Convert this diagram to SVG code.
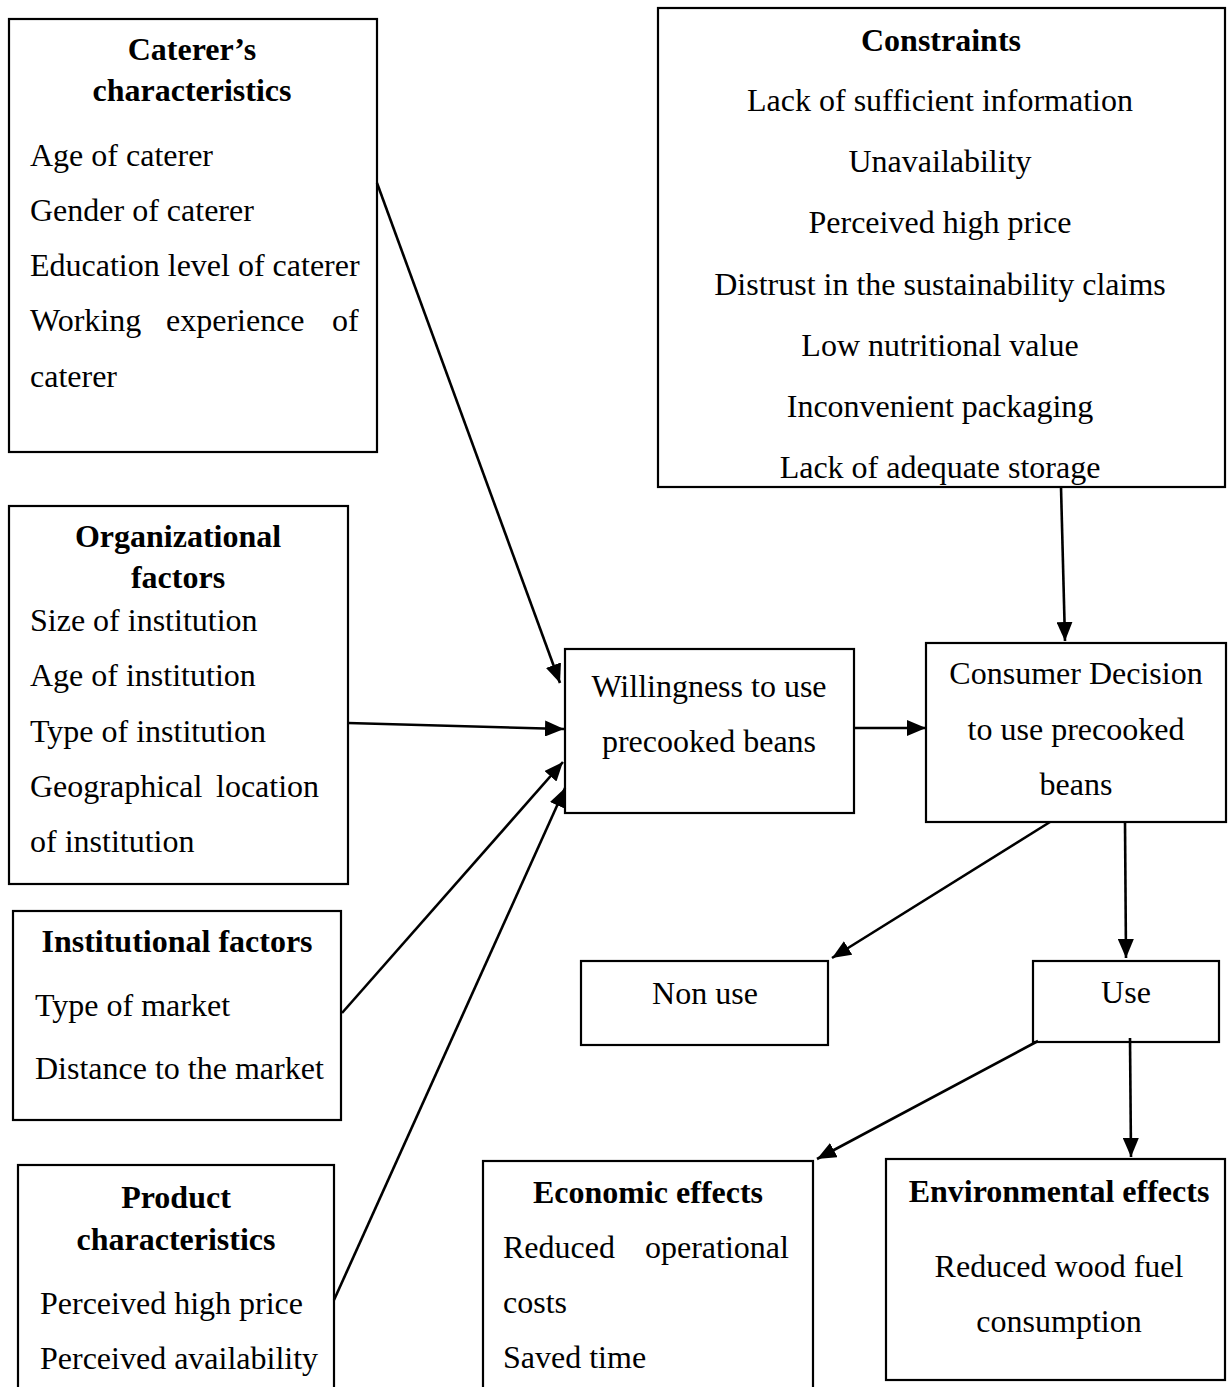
<svg xmlns="http://www.w3.org/2000/svg" width="1229" height="1387" viewBox="0 0 1229 1387">
<style>
.box{fill:#fff;stroke:#000;stroke-width:2.2}
text{font-family:"Liberation Serif","Times New Roman",serif;font-size:32px;fill:#000}
.b{font-weight:bold}
.c{text-anchor:middle}
.ln{stroke:#000;stroke-width:2.6;fill:none;marker-end:url(#ah)}
</style>
<defs>
<marker id="ah" markerUnits="userSpaceOnUse" markerWidth="20" markerHeight="16" refX="19" refY="8" orient="auto">
<path d="M0,0 L19,8 L0,16 z" fill="#000"/>
</marker>
</defs>
<rect width="1229" height="1387" fill="#fff"/>

<g id="caterer">
<rect class="box" x="9" y="19" width="368" height="433"/>
<text class="b c" x="192" y="60">Caterer’s</text>
<text class="b c" x="192" y="101">characteristics</text>
<text x="30" y="166">Age of caterer</text>
<text x="30" y="221">Gender of caterer</text>
<text x="30" y="276">Education level of caterer</text>
<text y="331"><tspan x="30">Working</tspan><tspan x="166">experience</tspan><tspan x="332">of</tspan></text>
<text x="30" y="387">caterer</text>
</g>

<g id="constraints">
<rect class="box" x="658" y="8" width="567" height="479"/>
<text class="b c" x="941" y="51">Constraints</text>
<text class="c" x="940" y="111">Lack of sufficient information</text>
<text class="c" x="940" y="172">Unavailability</text>
<text class="c" x="940" y="233">Perceived high price</text>
<text class="c" x="940" y="295">Distrust in the sustainability claims</text>
<text class="c" x="940" y="356">Low nutritional value</text>
<text class="c" x="940" y="417">Inconvenient packaging</text>
<text class="c" x="940" y="478">Lack of adequate storage</text>
</g>

<g id="organizational">
<rect class="box" x="9" y="506" width="339" height="378"/>
<text class="b c" x="178" y="547">Organizational</text>
<text class="b c" x="178" y="588">factors</text>
<text x="30" y="631">Size of institution</text>
<text x="30" y="686">Age of institution</text>
<text x="30" y="742">Type of institution</text>
<text y="797"><tspan x="30">Geographical</tspan><tspan x="216">location</tspan></text>
<text x="30" y="852">of institution</text>
</g>

<g id="institutional">
<rect class="box" x="13" y="911" width="328" height="209"/>
<text class="b c" x="177" y="952">Institutional factors</text>
<text x="35" y="1016">Type of market</text>
<text x="35" y="1079">Distance to the market</text>
</g>

<g id="product">
<rect class="box" x="18" y="1165" width="316" height="240"/>
<text class="b c" x="176" y="1208">Product</text>
<text class="b c" x="176" y="1250">characteristics</text>
<text x="40" y="1314">Perceived high price</text>
<text x="40" y="1369">Perceived availability</text>
</g>

<g id="willingness">
<rect class="box" x="565" y="649" width="289" height="164"/>
<text class="c" x="709" y="697">Willingness to use</text>
<text class="c" x="709" y="752">precooked beans</text>
</g>

<g id="decision">
<rect class="box" x="926" y="643" width="300" height="179"/>
<text class="c" x="1076" y="684">Consumer Decision</text>
<text class="c" x="1076" y="740">to use precooked</text>
<text class="c" x="1076" y="795">beans</text>
</g>

<g id="nonuse">
<rect class="box" x="581" y="961" width="247" height="84"/>
<text class="c" x="705" y="1004">Non use</text>
</g>

<g id="use">
<rect class="box" x="1033" y="961" width="186" height="81"/>
<text class="c" x="1126" y="1003">Use</text>
</g>

<g id="economic">
<rect class="box" x="483" y="1161" width="330" height="240"/>
<text class="b c" x="648" y="1203">Economic effects</text>
<text y="1258"><tspan x="503">Reduced</tspan><tspan x="645">operational</tspan></text>
<text x="503" y="1313">costs</text>
<text x="503" y="1368">Saved time</text>
</g>

<g id="environmental">
<rect class="box" x="886" y="1159" width="339" height="221"/>
<text class="b c" x="1059" y="1202">Environmental effects</text>
<text class="c" x="1059" y="1277">Reduced wood fuel</text>
<text class="c" x="1059" y="1332">consumption</text>
</g>

<g id="connectors">
<line class="ln" x1="377" y1="183" x2="560" y2="683"/>
<line class="ln" x1="348" y1="723" x2="564" y2="729"/>
<line class="ln" x1="342" y1="1013" x2="563" y2="762"/>
<line class="ln" x1="334" y1="1300" x2="565" y2="788"/>
<line class="ln" x1="854" y1="728" x2="926" y2="728"/>
<line class="ln" x1="1061" y1="487" x2="1065" y2="641"/>
<line class="ln" x1="1050" y1="822" x2="832" y2="958"/>
<line class="ln" x1="1125" y1="822" x2="1126" y2="958"/>
<line class="ln" x1="1038" y1="1041" x2="817" y2="1159"/>
<line class="ln" x1="1130" y1="1038" x2="1131" y2="1157"/>
</g>
</svg>
